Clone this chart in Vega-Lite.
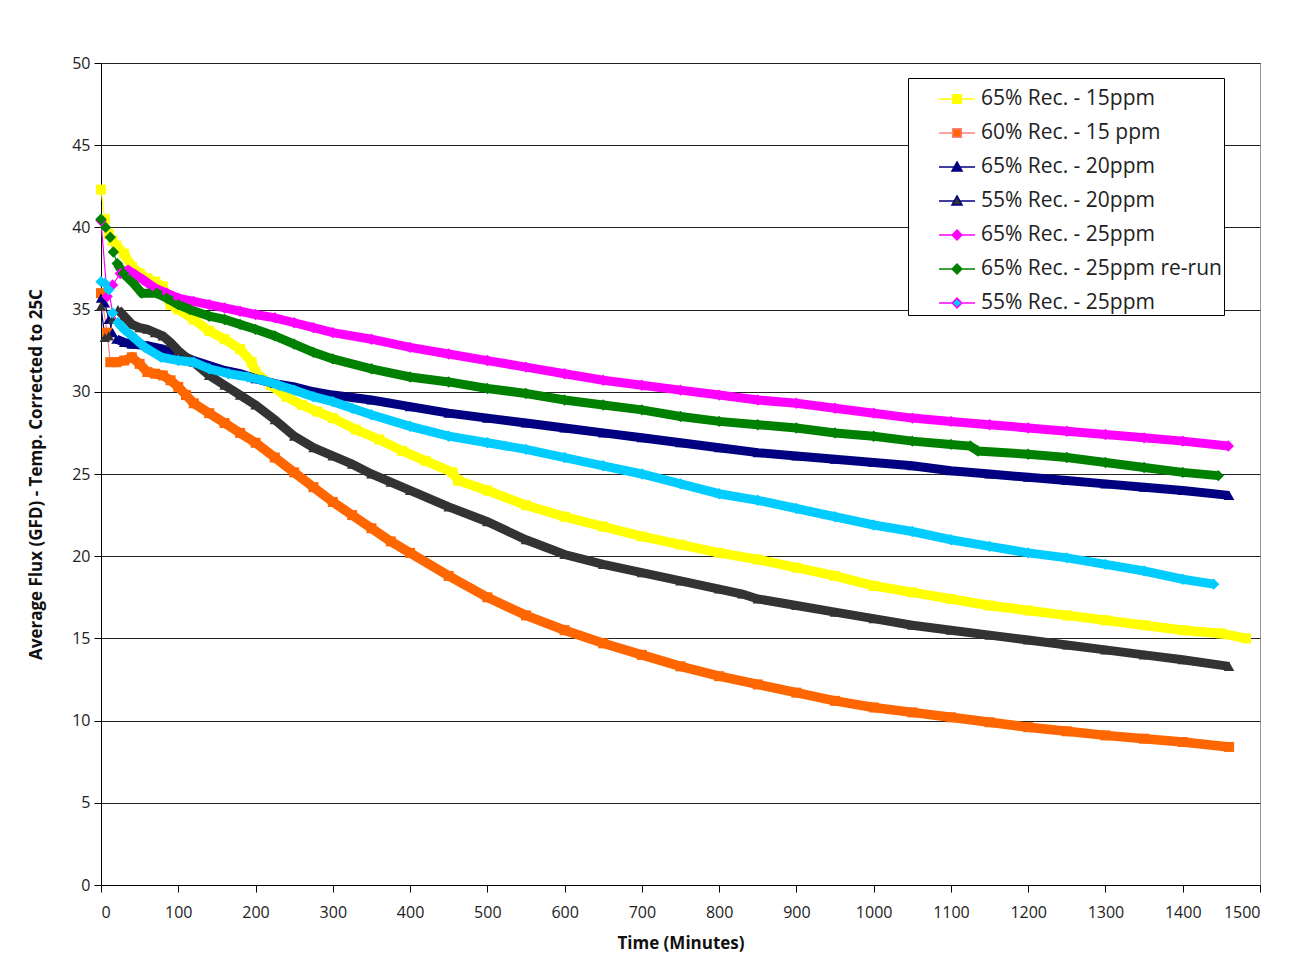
{
  "$schema": "https://vega.github.io/schema/vega-lite/v6.json",
  "autosize": {"type": "none"},
  "width": 1159,
  "height": 822,
  "padding": {"left": 101, "top": 63, "right": 34, "bottom": 83},
  "background": "white",
  "config": {
    "font": "Open Sans",
    "view": {"stroke": "#999999", "strokeWidth": 1},
    "axis": {"labelFont": "Open Sans", "titleFont": "Open Sans", "labelColor": "#222222", "titleColor": "#111111", "domainColor": "#000000", "tickColor": "#000000", "labelFontSize": 16, "titleFontSize": 17, "titleFontWeight": "bold", "tickSize": 7},
    "legend": {
      "orient": "none", "legendX": 807, "legendY": 15,
      "strokeColor": "#000000", "fillColor": "#ffffff", "padding": 2,
      "labelFont": "Open Sans", "labelFontSize": 21, "labelColor": "#222222",
      "symbolSize": 1296, "symbolStrokeWidth": 1.5, "rowPadding": 5, "labelOffset": 5, "symbolOffset": 28, "labelLimit": 400
    }
  },
  "data": {"values": [
    {"s":"65% Rec. - 15ppm","t":0,"v":42.3},{"s":"65% Rec. - 15ppm","t":5,"v":40.5},{"s":"65% Rec. - 15ppm","t":10,"v":39.6},{"s":"65% Rec. - 15ppm","t":15,"v":39.2},{"s":"65% Rec. - 15ppm","t":20,"v":38.9},{"s":"65% Rec. - 15ppm","t":30,"v":38.4},{"s":"65% Rec. - 15ppm","t":40,"v":37.6},{"s":"65% Rec. - 15ppm","t":50,"v":37.2},{"s":"65% Rec. - 15ppm","t":60,"v":36.9},{"s":"65% Rec. - 15ppm","t":70,"v":36.7},{"s":"65% Rec. - 15ppm","t":80,"v":36.4},{"s":"65% Rec. - 15ppm","t":90,"v":35.3},{"s":"65% Rec. - 15ppm","t":100,"v":35.0},{"s":"65% Rec. - 15ppm","t":120,"v":34.4},{"s":"65% Rec. - 15ppm","t":140,"v":33.7},{"s":"65% Rec. - 15ppm","t":160,"v":33.2},{"s":"65% Rec. - 15ppm","t":180,"v":32.6},{"s":"65% Rec. - 15ppm","t":195,"v":31.8},{"s":"65% Rec. - 15ppm","t":200,"v":31.2},{"s":"65% Rec. - 15ppm","t":220,"v":30.4},{"s":"65% Rec. - 15ppm","t":240,"v":29.7},{"s":"65% Rec. - 15ppm","t":260,"v":29.2},{"s":"65% Rec. - 15ppm","t":280,"v":28.8},{"s":"65% Rec. - 15ppm","t":300,"v":28.4},{"s":"65% Rec. - 15ppm","t":330,"v":27.7},{"s":"65% Rec. - 15ppm","t":360,"v":27.1},{"s":"65% Rec. - 15ppm","t":390,"v":26.4},{"s":"65% Rec. - 15ppm","t":420,"v":25.8},{"s":"65% Rec. - 15ppm","t":455,"v":25.1},{"s":"65% Rec. - 15ppm","t":462,"v":24.6},{"s":"65% Rec. - 15ppm","t":500,"v":24.0},{"s":"65% Rec. - 15ppm","t":550,"v":23.1},{"s":"65% Rec. - 15ppm","t":600,"v":22.4},{"s":"65% Rec. - 15ppm","t":650,"v":21.8},{"s":"65% Rec. - 15ppm","t":700,"v":21.2},{"s":"65% Rec. - 15ppm","t":750,"v":20.7},{"s":"65% Rec. - 15ppm","t":800,"v":20.2},{"s":"65% Rec. - 15ppm","t":850,"v":19.8},{"s":"65% Rec. - 15ppm","t":900,"v":19.3},{"s":"65% Rec. - 15ppm","t":950,"v":18.8},{"s":"65% Rec. - 15ppm","t":1000,"v":18.2},{"s":"65% Rec. - 15ppm","t":1050,"v":17.8},{"s":"65% Rec. - 15ppm","t":1100,"v":17.4},{"s":"65% Rec. - 15ppm","t":1150,"v":17.0},{"s":"65% Rec. - 15ppm","t":1200,"v":16.7},{"s":"65% Rec. - 15ppm","t":1250,"v":16.4},{"s":"65% Rec. - 15ppm","t":1300,"v":16.1},{"s":"65% Rec. - 15ppm","t":1350,"v":15.8},{"s":"65% Rec. - 15ppm","t":1400,"v":15.5},{"s":"65% Rec. - 15ppm","t":1450,"v":15.3},{"s":"65% Rec. - 15ppm","t":1482,"v":15.0},
    {"s":"60% Rec. - 15 ppm","t":0,"v":36.0},{"s":"60% Rec. - 15 ppm","t":8,"v":33.6},{"s":"60% Rec. - 15 ppm","t":12,"v":31.8},{"s":"60% Rec. - 15 ppm","t":20,"v":31.8},{"s":"60% Rec. - 15 ppm","t":30,"v":31.9},{"s":"60% Rec. - 15 ppm","t":40,"v":32.1},{"s":"60% Rec. - 15 ppm","t":50,"v":31.7},{"s":"60% Rec. - 15 ppm","t":60,"v":31.2},{"s":"60% Rec. - 15 ppm","t":70,"v":31.1},{"s":"60% Rec. - 15 ppm","t":80,"v":31.0},{"s":"60% Rec. - 15 ppm","t":90,"v":30.7},{"s":"60% Rec. - 15 ppm","t":100,"v":30.3},{"s":"60% Rec. - 15 ppm","t":110,"v":29.8},{"s":"60% Rec. - 15 ppm","t":120,"v":29.3},{"s":"60% Rec. - 15 ppm","t":140,"v":28.7},{"s":"60% Rec. - 15 ppm","t":160,"v":28.1},{"s":"60% Rec. - 15 ppm","t":180,"v":27.5},{"s":"60% Rec. - 15 ppm","t":200,"v":26.9},{"s":"60% Rec. - 15 ppm","t":225,"v":26.0},{"s":"60% Rec. - 15 ppm","t":250,"v":25.1},{"s":"60% Rec. - 15 ppm","t":275,"v":24.2},{"s":"60% Rec. - 15 ppm","t":300,"v":23.3},{"s":"60% Rec. - 15 ppm","t":325,"v":22.5},{"s":"60% Rec. - 15 ppm","t":350,"v":21.7},{"s":"60% Rec. - 15 ppm","t":375,"v":20.9},{"s":"60% Rec. - 15 ppm","t":400,"v":20.2},{"s":"60% Rec. - 15 ppm","t":450,"v":18.8},{"s":"60% Rec. - 15 ppm","t":500,"v":17.5},{"s":"60% Rec. - 15 ppm","t":550,"v":16.4},{"s":"60% Rec. - 15 ppm","t":600,"v":15.5},{"s":"60% Rec. - 15 ppm","t":650,"v":14.7},{"s":"60% Rec. - 15 ppm","t":700,"v":14.0},{"s":"60% Rec. - 15 ppm","t":750,"v":13.3},{"s":"60% Rec. - 15 ppm","t":800,"v":12.7},{"s":"60% Rec. - 15 ppm","t":850,"v":12.2},{"s":"60% Rec. - 15 ppm","t":900,"v":11.7},{"s":"60% Rec. - 15 ppm","t":950,"v":11.2},{"s":"60% Rec. - 15 ppm","t":1000,"v":10.8},{"s":"60% Rec. - 15 ppm","t":1050,"v":10.5},{"s":"60% Rec. - 15 ppm","t":1100,"v":10.2},{"s":"60% Rec. - 15 ppm","t":1150,"v":9.9},{"s":"60% Rec. - 15 ppm","t":1200,"v":9.6},{"s":"60% Rec. - 15 ppm","t":1250,"v":9.35},{"s":"60% Rec. - 15 ppm","t":1300,"v":9.1},{"s":"60% Rec. - 15 ppm","t":1350,"v":8.9},{"s":"60% Rec. - 15 ppm","t":1400,"v":8.7},{"s":"60% Rec. - 15 ppm","t":1460,"v":8.4},
    {"s":"65% Rec. - 20ppm","t":0,"v":35.7},{"s":"65% Rec. - 20ppm","t":5,"v":35.4},{"s":"65% Rec. - 20ppm","t":10,"v":34.4},{"s":"65% Rec. - 20ppm","t":15,"v":33.6},{"s":"65% Rec. - 20ppm","t":20,"v":33.2},{"s":"65% Rec. - 20ppm","t":30,"v":33.0},{"s":"65% Rec. - 20ppm","t":40,"v":32.9},{"s":"65% Rec. - 20ppm","t":60,"v":32.8},{"s":"65% Rec. - 20ppm","t":80,"v":32.6},{"s":"65% Rec. - 20ppm","t":100,"v":32.3},{"s":"65% Rec. - 20ppm","t":120,"v":31.9},{"s":"65% Rec. - 20ppm","t":140,"v":31.6},{"s":"65% Rec. - 20ppm","t":160,"v":31.3},{"s":"65% Rec. - 20ppm","t":180,"v":31.1},{"s":"65% Rec. - 20ppm","t":200,"v":30.8},{"s":"65% Rec. - 20ppm","t":225,"v":30.5},{"s":"65% Rec. - 20ppm","t":250,"v":30.3},{"s":"65% Rec. - 20ppm","t":275,"v":30.0},{"s":"65% Rec. - 20ppm","t":300,"v":29.8},{"s":"65% Rec. - 20ppm","t":350,"v":29.5},{"s":"65% Rec. - 20ppm","t":400,"v":29.1},{"s":"65% Rec. - 20ppm","t":450,"v":28.7},{"s":"65% Rec. - 20ppm","t":500,"v":28.4},{"s":"65% Rec. - 20ppm","t":550,"v":28.1},{"s":"65% Rec. - 20ppm","t":600,"v":27.8},{"s":"65% Rec. - 20ppm","t":650,"v":27.5},{"s":"65% Rec. - 20ppm","t":700,"v":27.2},{"s":"65% Rec. - 20ppm","t":750,"v":26.9},{"s":"65% Rec. - 20ppm","t":800,"v":26.6},{"s":"65% Rec. - 20ppm","t":850,"v":26.3},{"s":"65% Rec. - 20ppm","t":900,"v":26.1},{"s":"65% Rec. - 20ppm","t":950,"v":25.9},{"s":"65% Rec. - 20ppm","t":1000,"v":25.7},{"s":"65% Rec. - 20ppm","t":1050,"v":25.5},{"s":"65% Rec. - 20ppm","t":1100,"v":25.2},{"s":"65% Rec. - 20ppm","t":1150,"v":25.0},{"s":"65% Rec. - 20ppm","t":1200,"v":24.8},{"s":"65% Rec. - 20ppm","t":1250,"v":24.6},{"s":"65% Rec. - 20ppm","t":1300,"v":24.4},{"s":"65% Rec. - 20ppm","t":1350,"v":24.2},{"s":"65% Rec. - 20ppm","t":1400,"v":24.0},{"s":"65% Rec. - 20ppm","t":1460,"v":23.7},
    {"s":"55% Rec. - 20ppm","t":0,"v":35.2},{"s":"55% Rec. - 20ppm","t":5,"v":33.3},{"s":"55% Rec. - 20ppm","t":10,"v":33.4},{"s":"55% Rec. - 20ppm","t":15,"v":34.4},{"s":"55% Rec. - 20ppm","t":22,"v":35.0},{"s":"55% Rec. - 20ppm","t":30,"v":34.6},{"s":"55% Rec. - 20ppm","t":40,"v":34.1},{"s":"55% Rec. - 20ppm","t":50,"v":33.9},{"s":"55% Rec. - 20ppm","t":60,"v":33.8},{"s":"55% Rec. - 20ppm","t":70,"v":33.6},{"s":"55% Rec. - 20ppm","t":80,"v":33.4},{"s":"55% Rec. - 20ppm","t":90,"v":33.0},{"s":"55% Rec. - 20ppm","t":100,"v":32.5},{"s":"55% Rec. - 20ppm","t":110,"v":32.1},{"s":"55% Rec. - 20ppm","t":120,"v":31.8},{"s":"55% Rec. - 20ppm","t":140,"v":31.0},{"s":"55% Rec. - 20ppm","t":160,"v":30.4},{"s":"55% Rec. - 20ppm","t":180,"v":29.8},{"s":"55% Rec. - 20ppm","t":200,"v":29.2},{"s":"55% Rec. - 20ppm","t":225,"v":28.3},{"s":"55% Rec. - 20ppm","t":250,"v":27.3},{"s":"55% Rec. - 20ppm","t":275,"v":26.6},{"s":"55% Rec. - 20ppm","t":300,"v":26.1},{"s":"55% Rec. - 20ppm","t":325,"v":25.6},{"s":"55% Rec. - 20ppm","t":350,"v":25.0},{"s":"55% Rec. - 20ppm","t":375,"v":24.5},{"s":"55% Rec. - 20ppm","t":400,"v":24.0},{"s":"55% Rec. - 20ppm","t":450,"v":23.0},{"s":"55% Rec. - 20ppm","t":500,"v":22.1},{"s":"55% Rec. - 20ppm","t":550,"v":21.0},{"s":"55% Rec. - 20ppm","t":600,"v":20.1},{"s":"55% Rec. - 20ppm","t":650,"v":19.5},{"s":"55% Rec. - 20ppm","t":700,"v":19.0},{"s":"55% Rec. - 20ppm","t":750,"v":18.5},{"s":"55% Rec. - 20ppm","t":800,"v":18.0},{"s":"55% Rec. - 20ppm","t":830,"v":17.7},{"s":"55% Rec. - 20ppm","t":850,"v":17.4},{"s":"55% Rec. - 20ppm","t":900,"v":17.0},{"s":"55% Rec. - 20ppm","t":950,"v":16.6},{"s":"55% Rec. - 20ppm","t":1000,"v":16.2},{"s":"55% Rec. - 20ppm","t":1050,"v":15.8},{"s":"55% Rec. - 20ppm","t":1100,"v":15.5},{"s":"55% Rec. - 20ppm","t":1150,"v":15.2},{"s":"55% Rec. - 20ppm","t":1200,"v":14.9},{"s":"55% Rec. - 20ppm","t":1250,"v":14.6},{"s":"55% Rec. - 20ppm","t":1300,"v":14.3},{"s":"55% Rec. - 20ppm","t":1350,"v":14.0},{"s":"55% Rec. - 20ppm","t":1400,"v":13.7},{"s":"55% Rec. - 20ppm","t":1460,"v":13.3},
    {"s":"65% Rec. - 25ppm","t":0,"v":40.4},{"s":"65% Rec. - 25ppm","t":8,"v":35.8},{"s":"65% Rec. - 25ppm","t":15,"v":36.5},{"s":"65% Rec. - 25ppm","t":25,"v":37.2},{"s":"65% Rec. - 25ppm","t":35,"v":37.4},{"s":"65% Rec. - 25ppm","t":45,"v":37.1},{"s":"65% Rec. - 25ppm","t":55,"v":36.8},{"s":"65% Rec. - 25ppm","t":70,"v":36.3},{"s":"65% Rec. - 25ppm","t":85,"v":36.0},{"s":"65% Rec. - 25ppm","t":100,"v":35.7},{"s":"65% Rec. - 25ppm","t":120,"v":35.5},{"s":"65% Rec. - 25ppm","t":140,"v":35.3},{"s":"65% Rec. - 25ppm","t":160,"v":35.1},{"s":"65% Rec. - 25ppm","t":180,"v":34.9},{"s":"65% Rec. - 25ppm","t":200,"v":34.7},{"s":"65% Rec. - 25ppm","t":225,"v":34.5},{"s":"65% Rec. - 25ppm","t":250,"v":34.2},{"s":"65% Rec. - 25ppm","t":275,"v":33.9},{"s":"65% Rec. - 25ppm","t":300,"v":33.6},{"s":"65% Rec. - 25ppm","t":350,"v":33.2},{"s":"65% Rec. - 25ppm","t":400,"v":32.7},{"s":"65% Rec. - 25ppm","t":450,"v":32.3},{"s":"65% Rec. - 25ppm","t":500,"v":31.9},{"s":"65% Rec. - 25ppm","t":550,"v":31.5},{"s":"65% Rec. - 25ppm","t":600,"v":31.1},{"s":"65% Rec. - 25ppm","t":650,"v":30.7},{"s":"65% Rec. - 25ppm","t":700,"v":30.4},{"s":"65% Rec. - 25ppm","t":750,"v":30.1},{"s":"65% Rec. - 25ppm","t":800,"v":29.8},{"s":"65% Rec. - 25ppm","t":850,"v":29.5},{"s":"65% Rec. - 25ppm","t":900,"v":29.3},{"s":"65% Rec. - 25ppm","t":950,"v":29.0},{"s":"65% Rec. - 25ppm","t":1000,"v":28.7},{"s":"65% Rec. - 25ppm","t":1050,"v":28.4},{"s":"65% Rec. - 25ppm","t":1100,"v":28.2},{"s":"65% Rec. - 25ppm","t":1150,"v":28.0},{"s":"65% Rec. - 25ppm","t":1200,"v":27.8},{"s":"65% Rec. - 25ppm","t":1250,"v":27.6},{"s":"65% Rec. - 25ppm","t":1300,"v":27.4},{"s":"65% Rec. - 25ppm","t":1350,"v":27.2},{"s":"65% Rec. - 25ppm","t":1400,"v":27.0},{"s":"65% Rec. - 25ppm","t":1459,"v":26.7},
    {"s":"65% Rec. - 25ppm re-run","t":0,"v":40.5},{"s":"65% Rec. - 25ppm re-run","t":6,"v":40.0},{"s":"65% Rec. - 25ppm re-run","t":12,"v":39.4},{"s":"65% Rec. - 25ppm re-run","t":16,"v":38.5},{"s":"65% Rec. - 25ppm re-run","t":21,"v":37.8},{"s":"65% Rec. - 25ppm re-run","t":29,"v":37.2},{"s":"65% Rec. - 25ppm re-run","t":42,"v":36.6},{"s":"65% Rec. - 25ppm re-run","t":53,"v":36.0},{"s":"65% Rec. - 25ppm re-run","t":72,"v":36.0},{"s":"65% Rec. - 25ppm re-run","t":85,"v":35.7},{"s":"65% Rec. - 25ppm re-run","t":100,"v":35.3},{"s":"65% Rec. - 25ppm re-run","t":115,"v":35.0},{"s":"65% Rec. - 25ppm re-run","t":140,"v":34.6},{"s":"65% Rec. - 25ppm re-run","t":160,"v":34.4},{"s":"65% Rec. - 25ppm re-run","t":180,"v":34.1},{"s":"65% Rec. - 25ppm re-run","t":200,"v":33.8},{"s":"65% Rec. - 25ppm re-run","t":225,"v":33.4},{"s":"65% Rec. - 25ppm re-run","t":250,"v":32.9},{"s":"65% Rec. - 25ppm re-run","t":275,"v":32.4},{"s":"65% Rec. - 25ppm re-run","t":300,"v":32.0},{"s":"65% Rec. - 25ppm re-run","t":350,"v":31.4},{"s":"65% Rec. - 25ppm re-run","t":400,"v":30.9},{"s":"65% Rec. - 25ppm re-run","t":450,"v":30.6},{"s":"65% Rec. - 25ppm re-run","t":500,"v":30.2},{"s":"65% Rec. - 25ppm re-run","t":550,"v":29.9},{"s":"65% Rec. - 25ppm re-run","t":600,"v":29.5},{"s":"65% Rec. - 25ppm re-run","t":650,"v":29.2},{"s":"65% Rec. - 25ppm re-run","t":700,"v":28.9},{"s":"65% Rec. - 25ppm re-run","t":750,"v":28.5},{"s":"65% Rec. - 25ppm re-run","t":800,"v":28.2},{"s":"65% Rec. - 25ppm re-run","t":850,"v":28.0},{"s":"65% Rec. - 25ppm re-run","t":900,"v":27.8},{"s":"65% Rec. - 25ppm re-run","t":950,"v":27.5},{"s":"65% Rec. - 25ppm re-run","t":1000,"v":27.3},{"s":"65% Rec. - 25ppm re-run","t":1050,"v":27.0},{"s":"65% Rec. - 25ppm re-run","t":1100,"v":26.8},{"s":"65% Rec. - 25ppm re-run","t":1125,"v":26.7},{"s":"65% Rec. - 25ppm re-run","t":1135,"v":26.4},{"s":"65% Rec. - 25ppm re-run","t":1200,"v":26.2},{"s":"65% Rec. - 25ppm re-run","t":1250,"v":26.0},{"s":"65% Rec. - 25ppm re-run","t":1300,"v":25.7},{"s":"65% Rec. - 25ppm re-run","t":1350,"v":25.4},{"s":"65% Rec. - 25ppm re-run","t":1400,"v":25.1},{"s":"65% Rec. - 25ppm re-run","t":1446,"v":24.9},
    {"s":"55% Rec. - 25ppm","t":0,"v":36.7},{"s":"55% Rec. - 25ppm","t":5,"v":36.6},{"s":"55% Rec. - 25ppm","t":10,"v":36.2},{"s":"55% Rec. - 25ppm","t":15,"v":34.8},{"s":"55% Rec. - 25ppm","t":22,"v":34.2},{"s":"55% Rec. - 25ppm","t":30,"v":33.8},{"s":"55% Rec. - 25ppm","t":40,"v":33.4},{"s":"55% Rec. - 25ppm","t":57,"v":32.7},{"s":"55% Rec. - 25ppm","t":78,"v":32.1},{"s":"55% Rec. - 25ppm","t":100,"v":31.9},{"s":"55% Rec. - 25ppm","t":120,"v":31.8},{"s":"55% Rec. - 25ppm","t":140,"v":31.4},{"s":"55% Rec. - 25ppm","t":165,"v":31.1},{"s":"55% Rec. - 25ppm","t":190,"v":30.9},{"s":"55% Rec. - 25ppm","t":210,"v":30.7},{"s":"55% Rec. - 25ppm","t":230,"v":30.4},{"s":"55% Rec. - 25ppm","t":250,"v":30.1},{"s":"55% Rec. - 25ppm","t":275,"v":29.7},{"s":"55% Rec. - 25ppm","t":300,"v":29.4},{"s":"55% Rec. - 25ppm","t":325,"v":29.0},{"s":"55% Rec. - 25ppm","t":350,"v":28.6},{"s":"55% Rec. - 25ppm","t":400,"v":27.9},{"s":"55% Rec. - 25ppm","t":450,"v":27.3},{"s":"55% Rec. - 25ppm","t":500,"v":26.9},{"s":"55% Rec. - 25ppm","t":550,"v":26.5},{"s":"55% Rec. - 25ppm","t":600,"v":26.0},{"s":"55% Rec. - 25ppm","t":650,"v":25.5},{"s":"55% Rec. - 25ppm","t":700,"v":25.0},{"s":"55% Rec. - 25ppm","t":750,"v":24.4},{"s":"55% Rec. - 25ppm","t":800,"v":23.8},{"s":"55% Rec. - 25ppm","t":850,"v":23.4},{"s":"55% Rec. - 25ppm","t":900,"v":22.9},{"s":"55% Rec. - 25ppm","t":950,"v":22.4},{"s":"55% Rec. - 25ppm","t":1000,"v":21.9},{"s":"55% Rec. - 25ppm","t":1050,"v":21.5},{"s":"55% Rec. - 25ppm","t":1100,"v":21.0},{"s":"55% Rec. - 25ppm","t":1150,"v":20.6},{"s":"55% Rec. - 25ppm","t":1200,"v":20.2},{"s":"55% Rec. - 25ppm","t":1250,"v":19.9},{"s":"55% Rec. - 25ppm","t":1300,"v":19.5},{"s":"55% Rec. - 25ppm","t":1350,"v":19.1},{"s":"55% Rec. - 25ppm","t":1400,"v":18.6},{"s":"55% Rec. - 25ppm","t":1440,"v":18.3}
  ]},
  "encoding": {
    "x": {"field": "t", "type": "quantitative", "scale": {"domain": [0, 1500], "nice": false}, "axis": {"title": "Time (Minutes)", "format": "d", "values": [0,100,200,300,400,500,600,700,800,900,1000,1100,1200,1300,1400,1500], "grid": false, "labelPadding": 12, "titlePadding": 15}},
    "y": {"field": "v", "type": "quantitative", "scale": {"domain": [0, 50], "nice": false}, "axis": {"title": "Average Flux (GFD) - Temp. Corrected to 25C", "values": [0,5,10,15,20,25,30,35,40,45,50], "grid": true, "gridColor": "#222222", "gridWidth": 1, "labelPadding": 4, "titlePadding": 26}}
  },
  "layer": [
    {
      "transform": [{"filter": "datum.t < 0"}],
      "mark": {"type": "point", "filled": true, "opacity": 1, "strokeWidth": 1.5, "size": 1296},
      "encoding": {
        "fill": {"field": "s", "type": "nominal", "title": null, "scale": {"domain": ["65% Rec. - 15ppm","60% Rec. - 15 ppm","65% Rec. - 20ppm","55% Rec. - 20ppm","65% Rec. - 25ppm","65% Rec. - 25ppm re-run","55% Rec. - 25ppm"], "range": ["#FFFF00","#FF6600","#000080","#333333","#FF00FF","#008000","#00CCFF"]}},
        "stroke": {"field": "s", "type": "nominal", "title": null, "scale": {"domain": ["65% Rec. - 15ppm","60% Rec. - 15 ppm","65% Rec. - 20ppm","55% Rec. - 20ppm","65% Rec. - 25ppm","65% Rec. - 25ppm re-run","55% Rec. - 25ppm"], "range": ["#FFFF00","#FF8080","#000080","#000080","#FF00FF","#008000","#FF00FF"]}},
        "shape": {"field": "s", "type": "nominal", "title": null, "scale": {"domain": ["65% Rec. - 15ppm","60% Rec. - 15 ppm","65% Rec. - 20ppm","55% Rec. - 20ppm","65% Rec. - 25ppm","65% Rec. - 25ppm re-run","55% Rec. - 25ppm"], "range": ["M-1,0H-0.24M0.24,0H1M-0.24,-0.24H0.24V0.24H-0.24Z","M-1,0H-0.24M0.24,0H1M-0.24,-0.24H0.24V0.24H-0.24Z","M-1,0H-0.16M0.16,0H1M0,-0.28L0.28,0.22H-0.28Z","M-1,0H-0.16M0.16,0H1M0,-0.28L0.28,0.22H-0.28Z","M-1,0H-0.27M0.27,0H1M0,-0.27L0.27,0L0,0.27L-0.27,0Z","M-1,0H-0.27M0.27,0H1M0,-0.27L0.27,0L0,0.27L-0.27,0Z","M-1,0H-0.27M0.27,0H1M0,-0.27L0.27,0L0,0.27L-0.27,0Z"]}}
      }
    },
    {
      "mark": {"type": "line", "strokeWidth": 1.2},
      "encoding": {"stroke": {"field": "s", "type": "nominal", "title": null}}
    },
    {
      "transform": [{"filter": {"field": "s", "oneOf": ["65% Rec. - 15ppm","60% Rec. - 15 ppm"]}}, {"filter": "datum.t >= 20"}],
      "mark": {"type": "line", "strokeWidth": 9.5},
      "encoding": {"color": {"field": "s", "type": "nominal", "title": null, "legend": null, "scale": {"domain": ["55% Rec. - 25ppm","65% Rec. - 25ppm re-run","65% Rec. - 25ppm","55% Rec. - 20ppm","65% Rec. - 20ppm","60% Rec. - 15 ppm","65% Rec. - 15ppm"], "range": ["#00CCFF","#008000","#FF00FF","#333333","#000080","#FF6600","#FFFF00"]}}}
    },
    {
      "transform": [{"filter": {"field": "s", "oneOf": ["65% Rec. - 15ppm","60% Rec. - 15 ppm"]}}],
      "mark": {"type": "point", "shape": "square", "filled": true, "opacity": 1, "size": 100},
      "encoding": {"color": {"field": "s", "type": "nominal", "title": null, "legend": null}}
    },
    {
      "transform": [{"filter": {"field": "s", "oneOf": ["65% Rec. - 20ppm","55% Rec. - 20ppm"]}}, {"filter": "datum.t >= 20"}],
      "mark": {"type": "line", "strokeWidth": 9},
      "encoding": {"color": {"field": "s", "type": "nominal", "title": null, "legend": null}}
    },
    {
      "transform": [{"filter": {"field": "s", "oneOf": ["65% Rec. - 20ppm","55% Rec. - 20ppm"]}}],
      "mark": {"type": "point", "shape": "triangle-up", "filled": true, "opacity": 1, "size": 110},
      "encoding": {"color": {"field": "s", "type": "nominal", "title": null, "legend": null}}
    },
    {
      "transform": [{"filter": {"field": "s", "oneOf": ["65% Rec. - 25ppm","65% Rec. - 25ppm re-run","55% Rec. - 25ppm"]}}, {"filter": "datum.t >= 20"}],
      "mark": {"type": "line", "strokeWidth": 9},
      "encoding": {"color": {"field": "s", "type": "nominal", "title": null, "legend": null}}
    },
    {
      "transform": [{"filter": {"field": "s", "oneOf": ["65% Rec. - 25ppm","65% Rec. - 25ppm re-run","55% Rec. - 25ppm"]}}],
      "mark": {"type": "point", "shape": "diamond", "filled": true, "opacity": 1, "size": 130},
      "encoding": {"color": {"field": "s", "type": "nominal", "title": null, "legend": null}}
    }
  ]
}
